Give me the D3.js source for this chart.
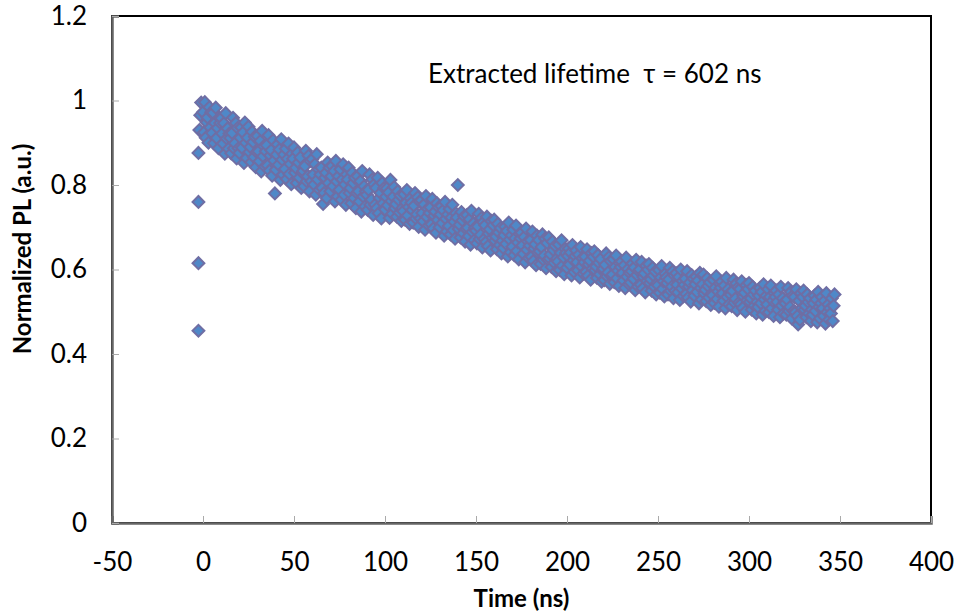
<!DOCTYPE html>
<html>
<head>
<meta charset="utf-8">
<script src="https://cdn.jsdelivr.net/npm/d3@7"></script>
<style>
  body { margin: 0; background: #fff; }
  text { font-family: Lato, "Open Sans", sans-serif; fill: #000; }
</style>
</head>
<body>
<div id="chart"></div>
<script>
// laser-on rise, read at t ~ -2 ns
const riseTime = [-2.5, -2.5, -2.5, -2.5, -2, -1.5, -1];
const riseValue = [0.455, 0.615, 0.76, 0.876, 0.93, 0.965, 0.995];

// decay trace, sampled every 0.5 ns from t = 0
const sampleStart = 0;
const sampleStep = 0.5;
const decayValue = [
  .972,.924,.996,.912,.948,.960,.900,.984,.936,.972,
  .923,.971,.899,.947,.983,.911,.935,.887,.959,.947,
  .958,.922,.898,.946,.874,.970,.910,.934,.886,.922,
  .911,.875,.923,.959,.887,.899,.947,.863,.935,.887,
  .876,.912,.936,.888,.924,.852,.948,.900,.864,.912,
  .938,.878,.890,.854,.926,.902,.866,.914,.842,.878,
  .916,.880,.856,.904,.832,.928,.868,.892,.844,.880,
  .894,.846,.918,.834,.870,.882,.822,.906,.858,.780,
  .836,.872,.896,.848,.884,.812,.908,.860,.824,.872,
  .838,.886,.814,.862,.898,.826,.850,.802,.874,.862,
  .889,.829,.841,.805,.877,.853,.817,.865,.793,.829,
  .833,.797,.845,.881,.809,.821,.869,.785,.857,.809,
  .861,.825,.801,.849,.777,.873,.813,.837,.789,.825,
  .841,.793,.755,.781,.817,.829,.769,.853,.805,.841,
  .785,.821,.845,.797,.833,.761,.857,.809,.773,.821,
  .789,.837,.765,.813,.849,.777,.801,.753,.825,.813,
  .841,.781,.793,.757,.829,.805,.769,.817,.745,.781,
  .821,.785,.761,.809,.737,.833,.773,.797,.749,.785,
  .777,.741,.789,.825,.753,.765,.813,.729,.801,.753,
  .793,.745,.817,.733,.769,.781,.721,.805,.757,.793,
  .742,.772,.792,.752,.782,.722,.812,.762,.732,.772,
  .795,.745,.755,.725,.785,.765,.735,.775,.715,.745,
  .738,.778,.718,.758,.788,.728,.748,.708,.768,.758,
  .741,.711,.751,.781,.721,.731,.771,.701,.761,.721,
  .764,.734,.714,.754,.694,.774,.724,.744,.704,.734,
  .747,.707,.767,.697,.727,.737,.687,.757,.717,.747,
  .700,.730,.750,.710,.740,.680,.760,.720,.690,.730,
  .703,.743,.683,.723,.753,.693,.713,.673,.733,.723,
  .800,.696,.706,.676,.736,.716,.686,.726,.666,.696,
  .729,.699,.679,.719,.659,.739,.689,.709,.669,.699,
  .692,.662,.702,.732,.672,.682,.722,.652,.712,.672,
  .705,.665,.725,.655,.685,.695,.645,.715,.675,.705,
  .718,.668,.678,.648,.708,.688,.658,.698,.638,.668,
  .651,.681,.701,.661,.691,.631,.711,.671,.641,.681,
  .654,.694,.634,.674,.704,.644,.664,.624,.684,.674,
  .687,.657,.637,.677,.617,.697,.647,.667,.627,.657,
  .670,.630,.690,.620,.650,.660,.610,.680,.640,.670,
  .643,.613,.653,.683,.623,.633,.673,.603,.663,.623,
  .676,.626,.636,.606,.666,.646,.616,.656,.596,.626,
  .619,.659,.599,.639,.669,.609,.629,.589,.649,.639,
  .604,.632,.650,.612,.640,.586,.658,.622,.594,.632,
  .645,.617,.598,.635,.581,.653,.607,.627,.590,.617,
  .630,.594,.648,.585,.612,.621,.576,.639,.602,.630,
  .643,.598,.607,.580,.634,.616,.589,.625,.571,.598,
  .602,.575,.611,.638,.584,.593,.629,.566,.620,.584,
  .588,.624,.570,.606,.633,.579,.597,.561,.615,.606,
  .619,.592,.574,.610,.556,.628,.583,.601,.565,.592,
  .569,.596,.614,.578,.605,.551,.623,.587,.560,.596,
  .600,.564,.618,.555,.582,.591,.546,.609,.573,.600,
  .613,.568,.577,.550,.604,.586,.559,.595,.541,.568,
  .563,.599,.545,.581,.608,.554,.572,.536,.590,.581,
  .568,.541,.577,.604,.550,.559,.595,.532,.586,.550,
  .591,.564,.546,.582,.528,.600,.555,.573,.537,.564,
  .578,.542,.596,.533,.560,.569,.524,.587,.551,.578,
  .538,.565,.583,.547,.574,.520,.592,.556,.529,.565,
  .588,.543,.552,.525,.579,.561,.534,.570,.516,.543,
  .539,.575,.521,.557,.584,.530,.548,.512,.566,.557,
  .571,.544,.526,.562,.508,.580,.535,.553,.517,.544,
  .540,.513,.549,.576,.522,.531,.567,.504,.558,.522,
  .554,.518,.572,.509,.536,.545,.500,.563,.527,.554,
  .568,.523,.532,.505,.559,.541,.514,.550,.496,.523,
  .511,.538,.556,.520,.547,.493,.565,.529,.502,.538,
  .517,.553,.499,.535,.562,.508,.526,.490,.544,.535,
  .550,.523,.505,.541,.487,.559,.514,.532,.496,.523,
  .520,.493,.529,.556,.502,.511,.547,.484,.538,.502,
  .535,.499,.553,.490,.470,.526,.481,.544,.508,.535,
  .550,.505,.514,.487,.541,.523,.496,.532,.478,.505,
  .493,.520,.538,.502,.529,.475,.547,.511,.484,.520,
  .535,.508,.490,.526,.472,.544,.499,.517,.481,.508,
  .496,.532,.478,.514,.541
];

const xTicks = [-50, 0, 50, 100, 150, 200, 250, 300, 350, 400];
const yTicks = [0, 0.2, 0.4, 0.6, 0.8, 1, 1.2];

// set the dimensions and margins of the graph
const margin = { top: 16, right: 24, bottom: 91, left: 112 },
  width = 955 - margin.left - margin.right,
  height = 614 - margin.top - margin.bottom;

const svg = d3
  .select("#chart")
  .append("svg")
  .attr("width", 955)
  .attr("height", 614)
  .append("g")
  .attr("transform", `translate(${margin.left}, ${margin.top})`);

const x = d3.scaleLinear().domain([-50, 400]).range([0, width]);
const y = d3.scaleLinear().domain([0, 1.2]).range([height, 0]);

// points
const points = riseTime.map((t, i) => ({ t: t, v: riseValue[i] }));
decayValue.forEach((v, i) => points.push({ t: sampleStart + i * sampleStep, v: v }));

const diamond = d3.symbol().type(d3.symbolSquare).size(70);

svg
  .selectAll("path.pt")
  .data(points)
  .join("path")
  .attr("class", "pt")
  .attr("d", diamond)
  .attr("transform", (d) => `translate(${x(d.t)}, ${y(d.v)}) rotate(45)`)
  .style("fill", "#4f88c8")
  .style("stroke", "#6f6ea4")
  .style("stroke-width", 2);

// frame
svg
  .append("rect")
  .attr("width", width)
  .attr("height", height)
  .attr("fill", "none")
  .attr("stroke", "#000")
  .attr("stroke-width", 2);

// X axis, ticks inside
const xAxis = svg
  .append("g")
  .attr("transform", `translate(0, ${height})`)
  .call(d3.axisBottom(x).tickValues(xTicks).tickSize(-7).tickPadding(30).tickFormat((d) => String(d)));
xAxis.select(".domain").attr("stroke", "#666").attr("stroke-width", 2.5);
xAxis.selectAll(".tick line").attr("stroke", "#aaa");
xAxis.selectAll("text").style("font-size", "26px").attr("fill", "#000");

// Y axis
const yAxis = svg
  .append("g")
  .call(d3.axisLeft(y).tickValues(yTicks).tickSize(-7).tickPadding(25).tickFormat((d) => String(d)));
yAxis.select(".domain").attr("stroke", "#666").attr("stroke-width", 2.5);
yAxis.selectAll(".tick line").attr("stroke", "#aaa");
yAxis.selectAll("text").style("font-size", "26px").attr("fill", "#000");

// axis titles
svg
  .append("text")
  .attr("x", width / 2)
  .attr("y", height + 84)
  .attr("text-anchor", "middle")
  .style("font-size", "24px")
  .style("font-weight", "bold")
  .text("Time (ns)");

svg
  .append("text")
  .attr("transform", `translate(${-margin.left + 31}, ${249 - margin.top}) rotate(-90)`)
  .attr("text-anchor", "middle")
  .style("font-size", "24px")
  .style("font-weight", "bold")
  .text("Normalized PL (a.u.)");

// annotation
svg
  .append("text")
  .attr("x", 428 - margin.left)
  .attr("y", 83 - margin.top)
  .style("font-size", "26px")
  .style("white-space", "pre")
  .text("Extracted lifetime  \u03c4 = 602 ns");
</script>
</body>
</html>
